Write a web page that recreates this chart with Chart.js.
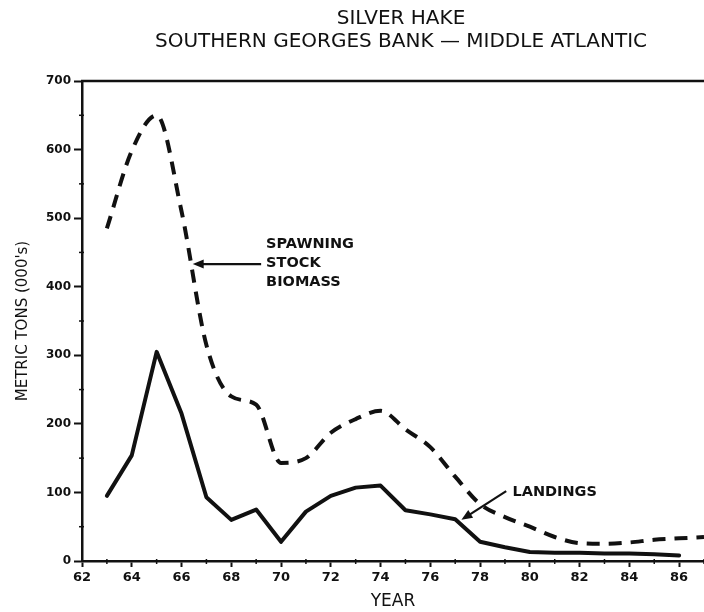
<!DOCTYPE html>
<html>
<head>
<meta charset="utf-8">
<script src="https://cdn.jsdelivr.net/npm/chart.js@4"></script>
<style>
  html, body { margin: 0; padding: 0; background: #fff; }
  #wrap { width: 704px; height: 612px; position: relative; }
</style>
</head>
<body>
<div id="wrap"><canvas id="c"></canvas></div>
<script>
// Silver hake, Southern Georges Bank – Middle Atlantic (thousands of metric tons)
const landingYears = [63, 64, 65, 66, 67, 68, 69, 70, 71, 72, 73, 74, 75, 76, 77, 78, 79, 80, 81, 82, 83, 84, 85, 86];
const landings     = [95, 154, 305, 215, 93, 60, 75, 28, 72, 95, 107, 110, 74, 68, 61, 28, 20, 13, 12, 12, 11, 11, 10, 8];

const biomassYears = [63, 64, 65, 66, 67, 68, 69, 70, 71, 72, 73, 74, 75, 76, 77, 78, 79, 80, 81, 82, 83, 84, 85, 86, 87];
const biomass      = [485, 598, 650, 510, 315, 240, 228, 143, 150, 187, 207, 219, 192, 166, 123, 83, 64, 50, 35, 26, 25, 27, 31, 33, 35];

const yearTicks = [62, 64, 66, 68, 70, 72, 74, 76, 78, 80, 82, 84, 86];
const tonTicks  = [0, 100, 200, 300, 400, 500, 600, 700];

const titleLines = ['SILVER HAKE', 'SOUTHERN GEORGES BANK \u2014 MIDDLE ATLANTIC'];

const FONT = '"DejaVu Sans", sans-serif';
const INK = '#111';

const toPoints = (xs, ys) => xs.map((x, i) => ({ x: x, y: ys[i] }));

function arrow(ctx, x1, y1, x2, y2) {
  const a = Math.atan2(y2 - y1, x2 - x1);
  const head = 11, half = 4.5;
  ctx.beginPath();
  ctx.moveTo(x1, y1);
  ctx.lineTo(x2 - Math.cos(a) * head * 0.8, y2 - Math.sin(a) * head * 0.8);
  ctx.stroke();
  ctx.beginPath();
  ctx.moveTo(x2, y2);
  ctx.lineTo(x2 - Math.cos(a) * head - Math.sin(a) * half, y2 - Math.sin(a) * head + Math.cos(a) * half);
  ctx.lineTo(x2 - Math.cos(a) * head + Math.sin(a) * half, y2 - Math.sin(a) * head - Math.cos(a) * half);
  ctx.closePath();
  ctx.fill();
}

// Titles, frame top, minor ticks and the two labelled arrows
const decorations = {
  id: 'decorations',
  afterDraw(chart, args, opts) {
    const { ctx, chartArea: area, scales: { x, y } } = chart;
    ctx.save();
    ctx.fillStyle = INK;
    ctx.strokeStyle = INK;

    // heading
    ctx.textAlign = 'center';
    ctx.textBaseline = 'middle';
    ctx.font = '20px ' + FONT;
    ctx.fillText(titleLines[0], 401, 19);
    ctx.fillText(titleLines[1], 401, 42);

    // top edge of the frame
    ctx.lineWidth = 2.5;
    ctx.beginPath();
    ctx.moveTo(area.left - 1, area.top);
    ctx.lineTo(area.right, area.top);
    ctx.stroke();

    // minor ticks
    ctx.lineWidth = 1.5;
    for (let v = 50; v < 700; v += 100) {
      const py = y.getPixelForValue(v);
      ctx.beginPath();
      ctx.moveTo(area.left - 3, py);
      ctx.lineTo(area.left + 2, py);
      ctx.stroke();
    }
    for (let yr = 63; yr <= 87; yr += 2) {
      const px = x.getPixelForValue(yr);
      ctx.beginPath();
      ctx.moveTo(px, area.bottom - 2);
      ctx.lineTo(px, area.bottom + 3);
      ctx.stroke();
    }

    // annotations
    ctx.lineWidth = 2.2;
    ctx.textAlign = 'left';
    ctx.font = 'bold 14.5px ' + FONT;
    opts.notes.forEach(n => {
      const tx = x.getPixelForValue(n.text[0]);
      const ty = y.getPixelForValue(n.text[1]);
      n.lines.forEach((line, i) => ctx.fillText(line, tx, ty + i * 19));
      arrow(ctx,
        x.getPixelForValue(n.from[0]), y.getPixelForValue(n.from[1]),
        x.getPixelForValue(n.to[0]), y.getPixelForValue(n.to[1]));
    });
    ctx.restore();
  }
};

new Chart(document.getElementById('c'), {
  type: 'line',
  data: {
    datasets: [
      {
        label: 'Spawning stock biomass',
        data: toPoints(biomassYears, biomass),
        borderColor: INK,
        borderWidth: 4,
        borderDash: [13, 9],
        borderCapStyle: 'butt',
        cubicInterpolationMode: 'monotone',
        pointRadius: 0,
        fill: false
      },
      {
        label: 'Landings',
        data: toPoints(landingYears, landings),
        borderColor: INK,
        borderWidth: 4,
        borderJoinStyle: 'round',
        borderCapStyle: 'round',
        tension: 0,
        pointRadius: 0,
        fill: false
      }
    ]
  },
  options: {
    responsive: true,
    maintainAspectRatio: false,
    animation: false,
    layout: { padding: { top: 81, right: 0, left: 0, bottom: 0 } },
    plugins: {
      legend: { display: false },
      tooltip: { enabled: false },
      decorations: {
        notes: [
          { lines: ['SPAWNING', 'STOCK', 'BIOMASS'], text: [69.4, 462], from: [69.2, 433], to: [66.45, 433] },
          { lines: ['LANDINGS'], text: [79.3, 100], from: [79.05, 102], to: [77.25, 60] }
        ]
      }
    },
    scales: {
      x: {
        type: 'linear',
        min: 62,
        max: 87,
        afterFit(s) { s.height = 51; },
        afterBuildTicks(s) { s.ticks = yearTicks.map(v => ({ value: v })); },
        border: { display: true, color: INK, width: 2.5 },
        grid: { drawOnChartArea: false, drawTicks: true, tickLength: 6, tickWidth: 2, tickColor: INK },
        ticks: { color: INK, font: { family: FONT, size: 13, weight: 'bold' }, padding: 3, maxRotation: 0 },
        title: { display: true, text: 'YEAR', color: INK, font: { family: FONT, size: 17 }, padding: { top: 0, bottom: 0 } }
      },
      y: {
        type: 'linear',
        min: 0,
        max: 700,
        afterFit(s) { s.width = 82; },
        afterBuildTicks(s) { s.ticks = tonTicks.map(v => ({ value: v })); },
        border: { display: true, color: INK, width: 2.5 },
        grid: { drawOnChartArea: false, drawTicks: true, tickLength: 8, tickWidth: 2, tickColor: INK },
        ticks: { color: INK, font: { family: FONT, size: 12, weight: 'bold' }, padding: 3 },
        title: { display: true, text: "METRIC TONS (000's)", color: INK, font: { family: FONT, size: 15 }, padding: { top: 14, bottom: 0 } }
      }
    }
  },
  plugins: [decorations]
});
</script>
</body>
</html>
